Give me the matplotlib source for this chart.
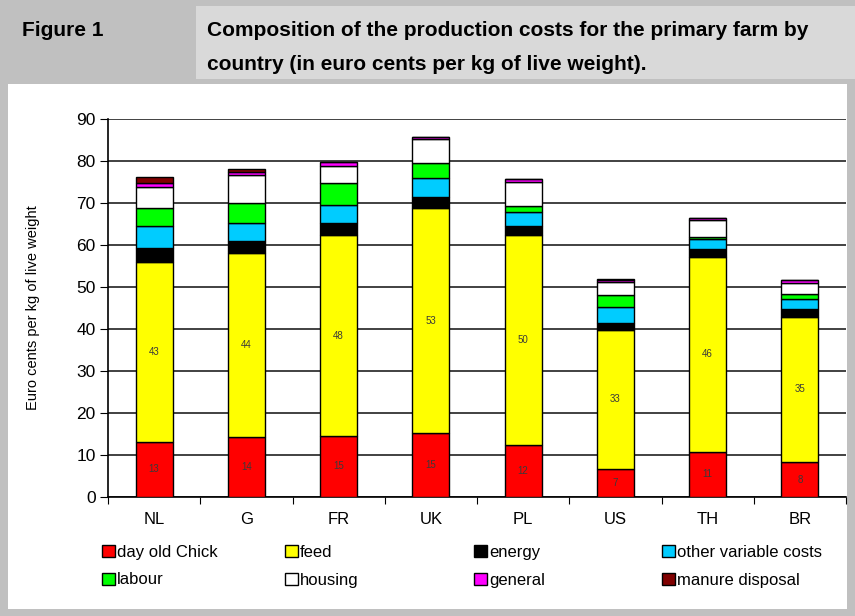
import matplotlib

matplotlib.use("Agg")
import matplotlib.patches as mpatches
import matplotlib.pyplot as plt
import numpy as np

# --- data (euro cents per kg live weight) ---------------------------------
countries = ["NL", "G", "FR", "UK", "PL", "US", "TH", "BR"]
chick = [13.1, 14.4, 14.6, 15.3, 12.4, 6.7, 10.8, 8.3]
feed = [42.8, 43.7, 47.7, 53.4, 50.0, 33.1, 46.3, 34.6]
energy = [3.5, 2.9, 3.0, 2.8, 2.2, 1.6, 2.0, 1.9]
other_var = [5.1, 4.3, 4.3, 4.4, 3.2, 3.8, 2.4, 2.3]
labour = [4.3, 4.6, 5.1, 3.6, 1.5, 2.8, 0.4, 1.2]
housing = [5.0, 6.8, 4.0, 5.7, 5.7, 3.2, 4.0, 2.7]
general = [1.0, 0.8, 1.1, 0.6, 0.6, 0.5, 0.5, 0.6]
manure = [1.3, 0.5, 0.0, 0.0, 0.0, 0.2, 0.0, 0.0]

series = [
    ("day old Chick", chick, "#ff0000"),
    ("feed", feed, "#ffff00"),
    ("energy", energy, "#000000"),
    ("other variable costs", other_var, "#00ccff"),
    ("labour", labour, "#00ff00"),
    ("housing", housing, "#ffffff"),
    ("general", general, "#ff00ff"),
    ("manure disposal", manure, "#800000"),
]

plt.rcParams["font.family"] = ["Liberation Sans", "DejaVu Sans"]

W, H = 855, 616
fig = plt.figure(figsize=(W / 100, H / 100), dpi=100, facecolor="#c0c0c0")


def box(x0, y0, x1, y1, color):
    # pixel coords, origin top-left
    fig.patches.append(mpatches.Rectangle(
        (x0 / W, 1 - y1 / H), (x1 - x0) / W, (y1 - y0) / H,
        transform=fig.transFigure, fc=color, ec="none", zorder=-5))


box(196, 6, 855, 79, "#d9d9d9")
box(8, 84, 847, 609, "#ffffff")

title_kw = dict(fontsize=15, fontweight="bold", va="center", ha="left")
fig.text(22 / W, 1 - 30 / H, "Figure 1", **title_kw)
fig.text(207 / W, 1 - 30 / H,
         "Composition of the production costs for the primary farm by", **title_kw)
fig.text(207 / W, 1 - 65 / H,
         "country (in euro cents per kg of live weight).", **title_kw)

ax = fig.add_axes([108 / W, 1 - 497 / H, (846 - 108) / W, (497 - 119) / H])
ax.set_facecolor("none")

x = np.arange(len(countries))
bottom = np.zeros(len(countries))
for name, vals, color in series:
    vals = np.array(vals)
    ax.bar(x, vals, 0.4, bottom=bottom, color=color, edgecolor="black",
           linewidth=1.0, label=name, zorder=3)
    if name in ("day old Chick", "feed"):
        for xi, b, v in zip(x, bottom, vals):
            ax.text(xi, b + v / 2, f"{v:.0f}", ha="center", va="center",
                    fontsize=7, color="#3a3a3a", zorder=4)
    bottom += vals

ax.set_xlim(-0.5, len(countries) - 0.5)
ax.set_ylim(0, 90)
ax.set_yticks(np.arange(0, 91, 10))
ax.yaxis.grid(True, color="#333333", linewidth=1.3, zorder=0)
ax.set_axisbelow(True)
ax.tick_params(axis="y", direction="out", length=6, labelsize=12.5, pad=3)

ax.set_xticks(np.arange(len(countries) + 1) - 0.5)
ax.set_xticklabels([])
ax.set_xticks(x, minor=True)
ax.set_xticklabels(countries, minor=True, fontsize=12)
ax.tick_params(axis="x", which="major", direction="out", length=5)
ax.tick_params(axis="x", which="minor", length=0, pad=11)

for s in ("top", "right"):
    ax.spines[s].set_visible(False)
for s in ("left", "bottom"):
    ax.spines[s].set_linewidth(1.2)

ax.set_ylabel("Euro cents per kg of live weight", fontsize=10.5, labelpad=26)

# legend: four columns of two entries each
handles, labels = ax.get_legend_handles_labels()
col_x = [102, 285, 474, 662]
for i, cx in enumerate(col_x):
    idx = [i, i + 4]
    fig.legend([handles[j] for j in idx], [labels[j] for j in idx],
               loc="upper left", bbox_to_anchor=(cx / W, 1 - 545 / H),
               frameon=False, prop={"size": 12},
               handlelength=0.75, handleheight=0.75, handletextpad=0.15,
               labelspacing=0.75, borderpad=0.0, borderaxespad=0.0)

fig.savefig("out.png", dpi=100, facecolor=fig.get_facecolor())
